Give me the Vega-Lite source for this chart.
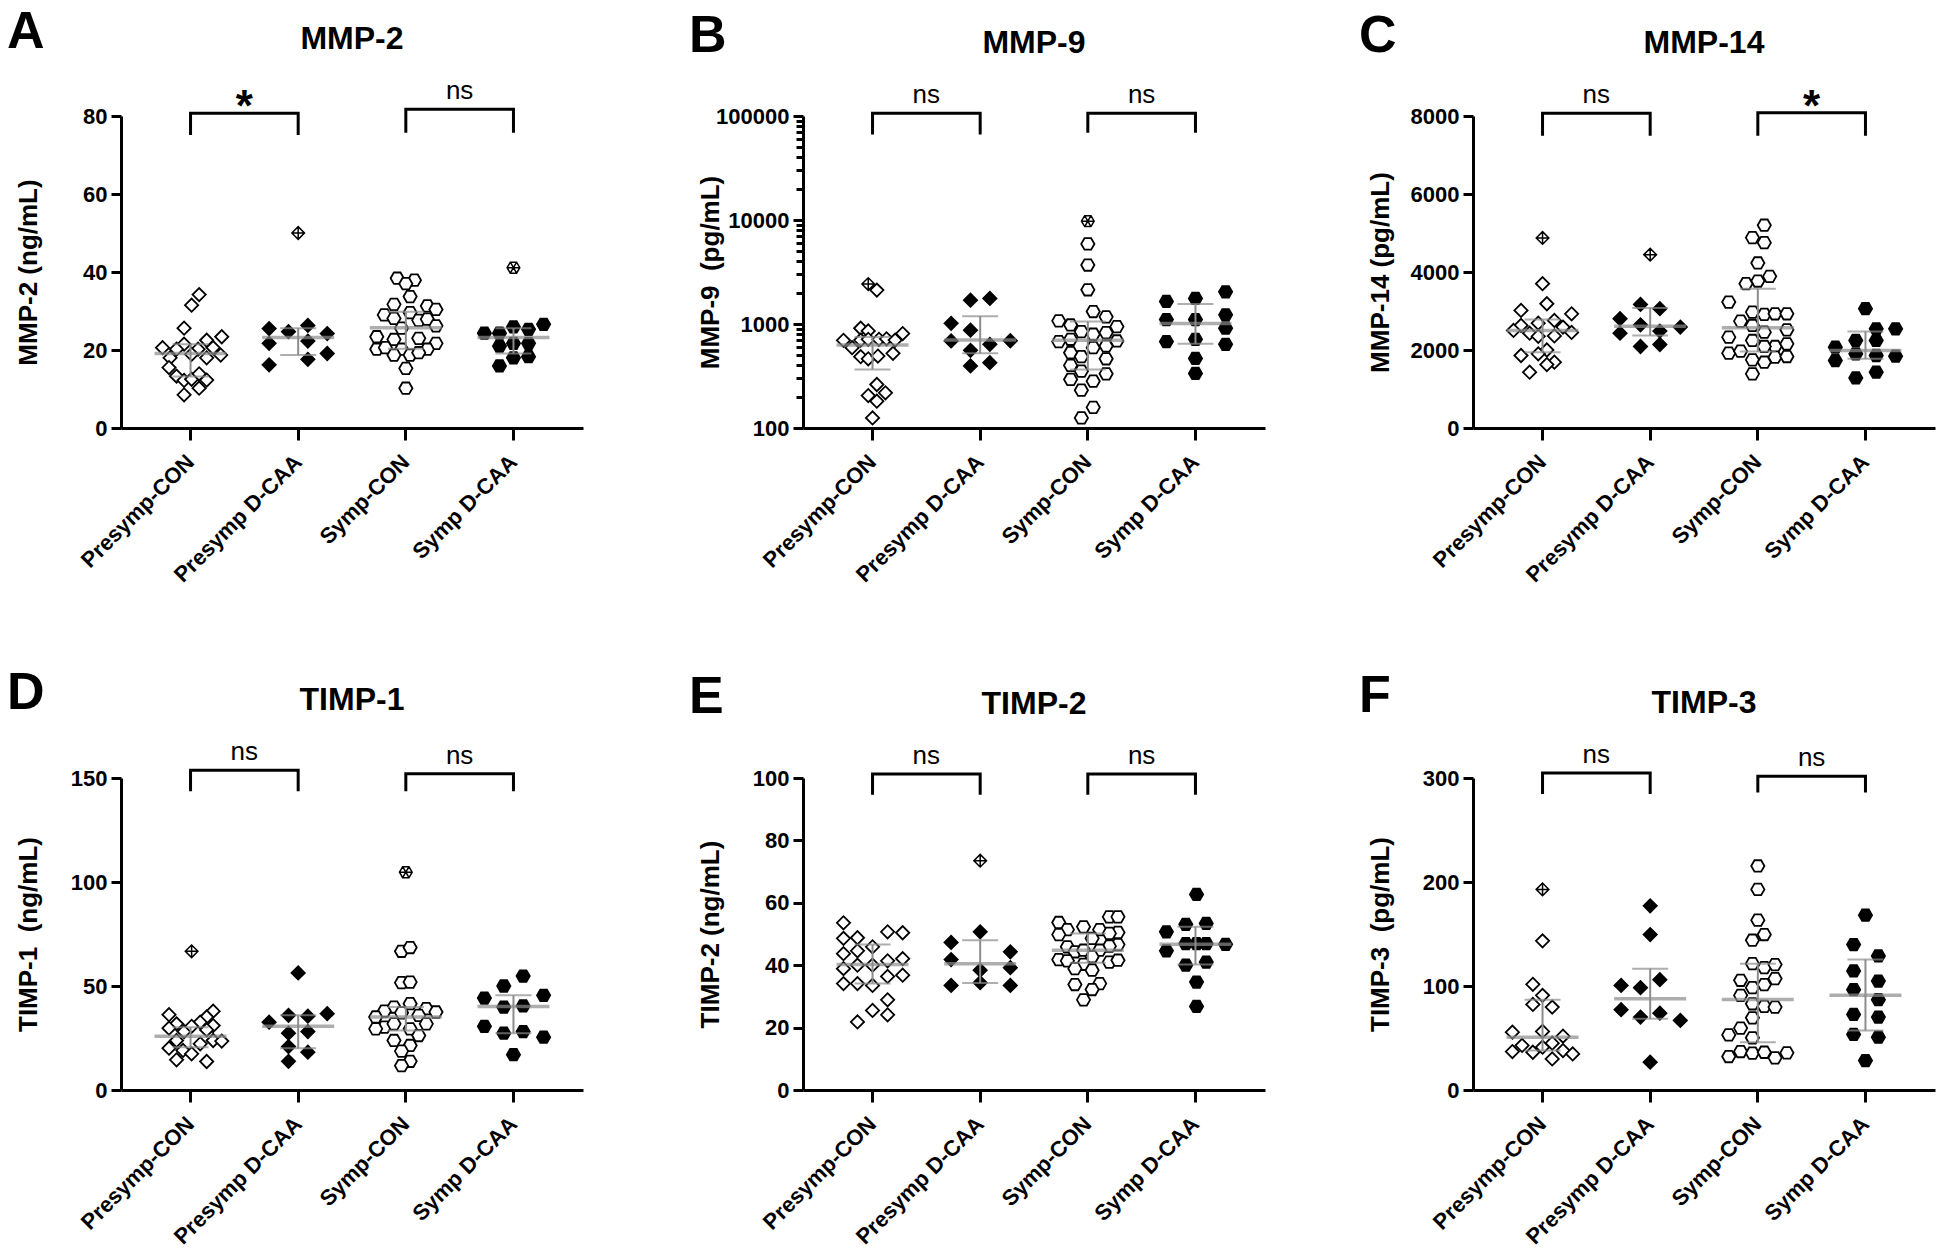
{
"$schema": "https://vega.github.io/schema/vega-lite/v6.json",
"padding": {"left": 7, "top": 6, "right": 5, "bottom": 0},
"background": "white",
"datasets": {
"pts": [
{"p":"A","g":"Presymp-CON","v":34.2,"j":0.08,"o":0},{"p":"A","g":"Presymp-CON","v":31.5,"j":0.01,"o":0},{"p":"A","g":"Presymp-CON","v":25.6,"j":-0.06,"o":0},{"p":"A","g":"Presymp-CON","v":23.4,"j":0.29,"o":0},{"p":"A","g":"Presymp-CON","v":22.5,"j":0.15,"o":0},{"p":"A","g":"Presymp-CON","v":21.5,"j":-0.06,"o":0},{"p":"A","g":"Presymp-CON","v":20.6,"j":-0.26,"o":0},{"p":"A","g":"Presymp-CON","v":20.2,"j":-0.13,"o":0},{"p":"A","g":"Presymp-CON","v":20.2,"j":0.07,"o":0},{"p":"A","g":"Presymp-CON","v":20.6,"j":0.21,"o":0},{"p":"A","g":"Presymp-CON","v":18.7,"j":0.28,"o":0},{"p":"A","g":"Presymp-CON","v":18.0,"j":-0.19,"o":0},{"p":"A","g":"Presymp-CON","v":18.0,"j":0.15,"o":0},{"p":"A","g":"Presymp-CON","v":18.9,"j":0.01,"o":0},{"p":"A","g":"Presymp-CON","v":15.5,"j":-0.2,"o":0},{"p":"A","g":"Presymp-CON","v":13.3,"j":-0.13,"o":0},{"p":"A","g":"Presymp-CON","v":12.2,"j":-0.06,"o":0},{"p":"A","g":"Presymp-CON","v":12.5,"j":0.01,"o":0},{"p":"A","g":"Presymp-CON","v":13.9,"j":0.08,"o":0},{"p":"A","g":"Presymp-CON","v":12.3,"j":0.15,"o":0},{"p":"A","g":"Presymp-CON","v":10.2,"j":0.08,"o":0},{"p":"A","g":"Presymp-CON","v":8.5,"j":-0.06,"o":0},
{"p":"A","g":"Presymp D-CAA","v":50.0,"j":0,"o":1},{"p":"A","g":"Presymp D-CAA","v":25.5,"j":-0.27,"o":0},{"p":"A","g":"Presymp D-CAA","v":24.7,"j":-0.09,"o":0},{"p":"A","g":"Presymp D-CAA","v":26.3,"j":0.09,"o":0},{"p":"A","g":"Presymp D-CAA","v":24.2,"j":0.27,"o":0},{"p":"A","g":"Presymp D-CAA","v":21.7,"j":-0.27,"o":0},{"p":"A","g":"Presymp D-CAA","v":22.3,"j":0.09,"o":0},{"p":"A","g":"Presymp D-CAA","v":19.1,"j":0.27,"o":0},{"p":"A","g":"Presymp D-CAA","v":17.6,"j":0.09,"o":0},{"p":"A","g":"Presymp D-CAA","v":16.2,"j":-0.27,"o":0},
{"p":"A","g":"Symp-CON","v":38.4,"j":-0.08,"o":0},{"p":"A","g":"Symp-CON","v":37.9,"j":0.08,"o":0},{"p":"A","g":"Symp-CON","v":37.0,"j":0,"o":0},{"p":"A","g":"Symp-CON","v":33.7,"j":0.04,"o":0},{"p":"A","g":"Symp-CON","v":31.7,"j":-0.11,"o":0},{"p":"A","g":"Symp-CON","v":31.3,"j":0.2,"o":0},{"p":"A","g":"Symp-CON","v":30.4,"j":0.28,"o":0},{"p":"A","g":"Symp-CON","v":29.0,"j":-0.2,"o":0},{"p":"A","g":"Symp-CON","v":29.6,"j":0.04,"o":0},{"p":"A","g":"Symp-CON","v":28.1,"j":-0.11,"o":0},{"p":"A","g":"Symp-CON","v":27.6,"j":0.12,"o":0},{"p":"A","g":"Symp-CON","v":27.9,"j":0.2,"o":0},{"p":"A","g":"Symp-CON","v":26.2,"j":0.28,"o":0},{"p":"A","g":"Symp-CON","v":25.6,"j":-0.04,"o":0},{"p":"A","g":"Symp-CON","v":23.4,"j":-0.27,"o":0},{"p":"A","g":"Symp-CON","v":22.7,"j":-0.11,"o":0},{"p":"A","g":"Symp-CON","v":23.0,"j":0.12,"o":0},{"p":"A","g":"Symp-CON","v":21.7,"j":0.28,"o":0},{"p":"A","g":"Symp-CON","v":20.2,"j":-0.27,"o":0},{"p":"A","g":"Symp-CON","v":20.6,"j":-0.19,"o":0},{"p":"A","g":"Symp-CON","v":20.2,"j":-0.04,"o":0},{"p":"A","g":"Symp-CON","v":20.2,"j":0.2,"o":0},{"p":"A","g":"Symp-CON","v":18.7,"j":-0.11,"o":0},{"p":"A","g":"Symp-CON","v":18.7,"j":0.04,"o":0},{"p":"A","g":"Symp-CON","v":19.3,"j":0.12,"o":0},{"p":"A","g":"Symp-CON","v":15.3,"j":0,"o":0},{"p":"A","g":"Symp-CON","v":10.2,"j":0,"o":0},
{"p":"A","g":"Symp D-CAA","v":41.1,"j":0,"o":1},{"p":"A","g":"Symp D-CAA","v":26.6,"j":0.28,"o":0},{"p":"A","g":"Symp D-CAA","v":24.3,"j":-0.27,"o":0},{"p":"A","g":"Symp D-CAA","v":24.3,"j":-0.13,"o":0},{"p":"A","g":"Symp D-CAA","v":25.9,"j":0,"o":0},{"p":"A","g":"Symp D-CAA","v":25.3,"j":0.14,"o":0},{"p":"A","g":"Symp D-CAA","v":21.0,"j":-0.13,"o":0},{"p":"A","g":"Symp D-CAA","v":21.7,"j":0,"o":0},{"p":"A","g":"Symp D-CAA","v":21.7,"j":0.14,"o":0},{"p":"A","g":"Symp D-CAA","v":18.0,"j":0,"o":0},{"p":"A","g":"Symp D-CAA","v":18.3,"j":0.14,"o":0},{"p":"A","g":"Symp D-CAA","v":15.9,"j":-0.13,"o":0},
{"p":"B","g":"Presymp-CON","v":2421,"j":-0.04,"o":1},{"p":"B","g":"Presymp-CON","v":2118,"j":0.04,"o":0},{"p":"B","g":"Presymp-CON","v":910,"j":-0.11,"o":0},{"p":"B","g":"Presymp-CON","v":857,"j":-0.04,"o":0},{"p":"B","g":"Presymp-CON","v":809,"j":0.28,"o":0},{"p":"B","g":"Presymp-CON","v":697,"j":-0.27,"o":0},{"p":"B","g":"Presymp-CON","v":700,"j":-0.11,"o":0},{"p":"B","g":"Presymp-CON","v":713,"j":-0.04,"o":0},{"p":"B","g":"Presymp-CON","v":713,"j":0.06,"o":0},{"p":"B","g":"Presymp-CON","v":720,"j":0.13,"o":0},{"p":"B","g":"Presymp-CON","v":700,"j":0.21,"o":0},{"p":"B","g":"Presymp-CON","v":592,"j":-0.19,"o":0},{"p":"B","g":"Presymp-CON","v":485,"j":-0.11,"o":0},{"p":"B","g":"Presymp-CON","v":463,"j":-0.04,"o":0},{"p":"B","g":"Presymp-CON","v":492,"j":0.05,"o":0},{"p":"B","g":"Presymp-CON","v":522,"j":0.19,"o":0},{"p":"B","g":"Presymp-CON","v":262,"j":0.04,"o":0},{"p":"B","g":"Presymp-CON","v":205,"j":-0.04,"o":0},{"p":"B","g":"Presymp-CON","v":218,"j":0.12,"o":0},{"p":"B","g":"Presymp-CON","v":181,"j":0.04,"o":0},{"p":"B","g":"Presymp-CON","v":125,"j":0,"o":0},
{"p":"B","g":"Presymp D-CAA","v":1694,"j":-0.09,"o":0},{"p":"B","g":"Presymp D-CAA","v":1762,"j":0.09,"o":0},{"p":"B","g":"Presymp D-CAA","v":1016,"j":-0.27,"o":0},{"p":"B","g":"Presymp D-CAA","v":871,"j":-0.09,"o":0},{"p":"B","g":"Presymp D-CAA","v":687,"j":-0.27,"o":0},{"p":"B","g":"Presymp D-CAA","v":638,"j":0.09,"o":0},{"p":"B","g":"Presymp D-CAA","v":690,"j":0.28,"o":0},{"p":"B","g":"Presymp D-CAA","v":558,"j":-0.09,"o":0},{"p":"B","g":"Presymp D-CAA","v":395,"j":-0.09,"o":0},{"p":"B","g":"Presymp D-CAA","v":425,"j":0.09,"o":0},
{"p":"B","g":"Symp-CON","v":9750,"j":0,"o":1},{"p":"B","g":"Symp-CON","v":5890,"j":0,"o":0},{"p":"B","g":"Symp-CON","v":3690,"j":0,"o":0},{"p":"B","g":"Symp-CON","v":2134,"j":0,"o":0},{"p":"B","g":"Symp-CON","v":1318,"j":0.05,"o":0},{"p":"B","g":"Symp-CON","v":1172,"j":0.17,"o":0},{"p":"B","g":"Symp-CON","v":1072,"j":-0.27,"o":0},{"p":"B","g":"Symp-CON","v":979,"j":-0.16,"o":0},{"p":"B","g":"Symp-CON","v":944,"j":0.27,"o":0},{"p":"B","g":"Symp-CON","v":845,"j":-0.06,"o":0},{"p":"B","g":"Symp-CON","v":797,"j":0.05,"o":0},{"p":"B","g":"Symp-CON","v":826,"j":0.17,"o":0},{"p":"B","g":"Symp-CON","v":677,"j":-0.27,"o":0},{"p":"B","g":"Symp-CON","v":713,"j":-0.16,"o":0},{"p":"B","g":"Symp-CON","v":687,"j":0.27,"o":0},{"p":"B","g":"Symp-CON","v":592,"j":0.05,"o":0},{"p":"B","g":"Symp-CON","v":615,"j":0.17,"o":0},{"p":"B","g":"Symp-CON","v":530,"j":-0.16,"o":0},{"p":"B","g":"Symp-CON","v":485,"j":-0.06,"o":0},{"p":"B","g":"Symp-CON","v":463,"j":0.17,"o":0},{"p":"B","g":"Symp-CON","v":400,"j":-0.16,"o":0},{"p":"B","g":"Symp-CON","v":352,"j":-0.06,"o":0},{"p":"B","g":"Symp-CON","v":332,"j":0.17,"o":0},{"p":"B","g":"Symp-CON","v":293,"j":-0.16,"o":0},{"p":"B","g":"Symp-CON","v":282,"j":0.05,"o":0},{"p":"B","g":"Symp-CON","v":231,"j":-0.06,"o":0},{"p":"B","g":"Symp-CON","v":158,"j":0.05,"o":0},{"p":"B","g":"Symp-CON","v":125,"j":-0.06,"o":0},
{"p":"B","g":"Symp D-CAA","v":1648,"j":-0.27,"o":0},{"p":"B","g":"Symp D-CAA","v":1762,"j":0,"o":0},{"p":"B","g":"Symp D-CAA","v":2042,"j":0.28,"o":0},{"p":"B","g":"Symp D-CAA","v":1104,"j":-0.27,"o":0},{"p":"B","g":"Symp D-CAA","v":1104,"j":0,"o":0},{"p":"B","g":"Symp D-CAA","v":1224,"j":0.28,"o":0},{"p":"B","g":"Symp D-CAA","v":912,"j":0.28,"o":0},{"p":"B","g":"Symp D-CAA","v":677,"j":-0.27,"o":0},{"p":"B","g":"Symp D-CAA","v":713,"j":0,"o":0},{"p":"B","g":"Symp D-CAA","v":638,"j":0.28,"o":0},{"p":"B","g":"Symp D-CAA","v":467,"j":0,"o":0},{"p":"B","g":"Symp D-CAA","v":335,"j":0,"o":0},
{"p":"C","g":"Presymp-CON","v":4873,"j":0,"o":1},{"p":"C","g":"Presymp-CON","v":3700,"j":0,"o":0},{"p":"C","g":"Presymp-CON","v":3186,"j":0.04,"o":0},{"p":"C","g":"Presymp-CON","v":3015,"j":-0.2,"o":0},{"p":"C","g":"Presymp-CON","v":2929,"j":0.27,"o":0},{"p":"C","g":"Presymp-CON","v":2758,"j":0.11,"o":0},{"p":"C","g":"Presymp-CON","v":2689,"j":-0.04,"o":0},{"p":"C","g":"Presymp-CON","v":2629,"j":-0.2,"o":0},{"p":"C","g":"Presymp-CON","v":2587,"j":0.19,"o":0},{"p":"C","g":"Presymp-CON","v":2501,"j":-0.27,"o":0},{"p":"C","g":"Presymp-CON","v":2432,"j":-0.12,"o":0},{"p":"C","g":"Presymp-CON","v":2450,"j":0.27,"o":0},{"p":"C","g":"Presymp-CON","v":2350,"j":-0.04,"o":0},{"p":"C","g":"Presymp-CON","v":2360,"j":0.11,"o":0},{"p":"C","g":"Presymp-CON","v":2000,"j":0.04,"o":0},{"p":"C","g":"Presymp-CON","v":1901,"j":-0.04,"o":0},{"p":"C","g":"Presymp-CON","v":1859,"j":-0.2,"o":0},{"p":"C","g":"Presymp-CON","v":1687,"j":0.11,"o":0},{"p":"C","g":"Presymp-CON","v":1627,"j":0.04,"o":0},{"p":"C","g":"Presymp-CON","v":1430,"j":-0.12,"o":0},
{"p":"C","g":"Presymp D-CAA","v":4445,"j":0,"o":1},{"p":"C","g":"Presymp D-CAA","v":3169,"j":-0.09,"o":0},{"p":"C","g":"Presymp D-CAA","v":3058,"j":0.09,"o":0},{"p":"C","g":"Presymp D-CAA","v":2801,"j":-0.28,"o":0},{"p":"C","g":"Presymp D-CAA","v":2647,"j":-0.09,"o":0},{"p":"C","g":"Presymp D-CAA","v":2587,"j":0.28,"o":0},{"p":"C","g":"Presymp D-CAA","v":2432,"j":-0.28,"o":0},{"p":"C","g":"Presymp D-CAA","v":2484,"j":0.09,"o":0},{"p":"C","g":"Presymp D-CAA","v":2090,"j":-0.09,"o":0},{"p":"C","g":"Presymp D-CAA","v":2141,"j":0.09,"o":0},
{"p":"C","g":"Symp-CON","v":5199,"j":0.06,"o":0},{"p":"C","g":"Symp-CON","v":4882,"j":-0.05,"o":0},{"p":"C","g":"Symp-CON","v":4753,"j":0.06,"o":0},{"p":"C","g":"Symp-CON","v":4231,"j":0,"o":0},{"p":"C","g":"Symp-CON","v":3888,"j":0.11,"o":0},{"p":"C","g":"Symp-CON","v":3769,"j":0,"o":0},{"p":"C","g":"Symp-CON","v":3700,"j":-0.11,"o":0},{"p":"C","g":"Symp-CON","v":3229,"j":-0.27,"o":0},{"p":"C","g":"Symp-CON","v":2972,"j":-0.05,"o":0},{"p":"C","g":"Symp-CON","v":2912,"j":0.06,"o":0},{"p":"C","g":"Symp-CON","v":2929,"j":0.16,"o":0},{"p":"C","g":"Symp-CON","v":2929,"j":0.27,"o":0},{"p":"C","g":"Symp-CON","v":2741,"j":-0.16,"o":0},{"p":"C","g":"Symp-CON","v":2629,"j":-0.05,"o":0},{"p":"C","g":"Symp-CON","v":2458,"j":0.06,"o":0},{"p":"C","g":"Symp-CON","v":2518,"j":0.27,"o":0},{"p":"C","g":"Symp-CON","v":2330,"j":-0.27,"o":0},{"p":"C","g":"Symp-CON","v":2244,"j":-0.05,"o":0},{"p":"C","g":"Symp-CON","v":2090,"j":0.16,"o":0},{"p":"C","g":"Symp-CON","v":2158,"j":0.27,"o":0},{"p":"C","g":"Symp-CON","v":2090,"j":0.06,"o":0},{"p":"C","g":"Symp-CON","v":1919,"j":-0.27,"o":0},{"p":"C","g":"Symp-CON","v":1970,"j":-0.16,"o":0},{"p":"C","g":"Symp-CON","v":1816,"j":0.16,"o":0},{"p":"C","g":"Symp-CON","v":1833,"j":0.27,"o":0},{"p":"C","g":"Symp-CON","v":1747,"j":-0.05,"o":0},{"p":"C","g":"Symp-CON","v":1687,"j":0.06,"o":0},{"p":"C","g":"Symp-CON","v":1388,"j":-0.05,"o":0},
{"p":"C","g":"Symp D-CAA","v":3058,"j":0,"o":0},{"p":"C","g":"Symp D-CAA","v":2544,"j":0.1,"o":0},{"p":"C","g":"Symp D-CAA","v":2544,"j":0.28,"o":0},{"p":"C","g":"Symp D-CAA","v":2244,"j":-0.09,"o":0},{"p":"C","g":"Symp D-CAA","v":2244,"j":0.1,"o":0},{"p":"C","g":"Symp D-CAA","v":2073,"j":-0.28,"o":0},{"p":"C","g":"Symp D-CAA","v":1901,"j":-0.09,"o":0},{"p":"C","g":"Symp D-CAA","v":1859,"j":0.1,"o":0},{"p":"C","g":"Symp D-CAA","v":1841,"j":0.28,"o":0},{"p":"C","g":"Symp D-CAA","v":1730,"j":-0.28,"o":0},{"p":"C","g":"Symp D-CAA","v":1430,"j":0.1,"o":0},{"p":"C","g":"Symp D-CAA","v":1285,"j":-0.09,"o":0},
{"p":"D","g":"Presymp-CON","v":66.7,"j":0.01,"o":1},{"p":"D","g":"Presymp-CON","v":36.2,"j":-0.2,"o":0},{"p":"D","g":"Presymp-CON","v":37.9,"j":0.21,"o":0},{"p":"D","g":"Presymp-CON","v":35.1,"j":0.15,"o":0},{"p":"D","g":"Presymp-CON","v":31.8,"j":-0.13,"o":0},{"p":"D","g":"Presymp-CON","v":31.0,"j":0.21,"o":0},{"p":"D","g":"Presymp-CON","v":29.7,"j":-0.2,"o":0},{"p":"D","g":"Presymp-CON","v":28.1,"j":-0.06,"o":0},{"p":"D","g":"Presymp-CON","v":32.6,"j":0.09,"o":0},{"p":"D","g":"Presymp-CON","v":30.6,"j":0.01,"o":0},{"p":"D","g":"Presymp-CON","v":28.9,"j":0.15,"o":0},{"p":"D","g":"Presymp-CON","v":23.8,"j":-0.13,"o":0},{"p":"D","g":"Presymp-CON","v":19.0,"j":-0.07,"o":0},{"p":"D","g":"Presymp-CON","v":20.1,"j":-0.2,"o":0},{"p":"D","g":"Presymp-CON","v":22.2,"j":0.09,"o":0},{"p":"D","g":"Presymp-CON","v":23.8,"j":0.21,"o":0},{"p":"D","g":"Presymp-CON","v":23.5,"j":0.29,"o":0},{"p":"D","g":"Presymp-CON","v":17.4,"j":0.01,"o":0},{"p":"D","g":"Presymp-CON","v":14.5,"j":-0.13,"o":0},{"p":"D","g":"Presymp-CON","v":13.7,"j":0.15,"o":0},
{"p":"D","g":"Presymp D-CAA","v":56.3,"j":0,"o":0},{"p":"D","g":"Presymp D-CAA","v":36.7,"j":0.27,"o":0},{"p":"D","g":"Presymp D-CAA","v":32.6,"j":-0.27,"o":0},{"p":"D","g":"Presymp D-CAA","v":35.9,"j":-0.09,"o":0},{"p":"D","g":"Presymp D-CAA","v":35.5,"j":0.09,"o":0},{"p":"D","g":"Presymp D-CAA","v":27.3,"j":-0.09,"o":0},{"p":"D","g":"Presymp D-CAA","v":28.1,"j":0.09,"o":0},{"p":"D","g":"Presymp D-CAA","v":20.9,"j":-0.09,"o":0},{"p":"D","g":"Presymp D-CAA","v":18.2,"j":0.09,"o":0},{"p":"D","g":"Presymp D-CAA","v":13.8,"j":-0.09,"o":0},
{"p":"D","g":"Symp-CON","v":104.7,"j":0,"o":1},{"p":"D","g":"Symp-CON","v":66.7,"j":-0.04,"o":0},{"p":"D","g":"Symp-CON","v":68.5,"j":0.04,"o":0},{"p":"D","g":"Symp-CON","v":51.6,"j":-0.04,"o":0},{"p":"D","g":"Symp-CON","v":51.9,"j":0.04,"o":0},{"p":"D","g":"Symp-CON","v":41.5,"j":0.04,"o":0},{"p":"D","g":"Symp-CON","v":39.9,"j":-0.11,"o":0},{"p":"D","g":"Symp-CON","v":39.1,"j":0.19,"o":0},{"p":"D","g":"Symp-CON","v":37.9,"j":-0.2,"o":0},{"p":"D","g":"Symp-CON","v":37.5,"j":0.28,"o":0},{"p":"D","g":"Symp-CON","v":37.1,"j":-0.04,"o":0},{"p":"D","g":"Symp-CON","v":35.9,"j":0.12,"o":0},{"p":"D","g":"Symp-CON","v":35.1,"j":-0.28,"o":0},{"p":"D","g":"Symp-CON","v":30.2,"j":-0.2,"o":0},{"p":"D","g":"Symp-CON","v":29.4,"j":-0.28,"o":0},{"p":"D","g":"Symp-CON","v":31.8,"j":-0.11,"o":0},{"p":"D","g":"Symp-CON","v":29.4,"j":0.04,"o":0},{"p":"D","g":"Symp-CON","v":26.2,"j":0.12,"o":0},{"p":"D","g":"Symp-CON","v":31.8,"j":0.19,"o":0},{"p":"D","g":"Symp-CON","v":23.8,"j":-0.11,"o":0},{"p":"D","g":"Symp-CON","v":21.4,"j":0.04,"o":0},{"p":"D","g":"Symp-CON","v":18.7,"j":-0.04,"o":0},{"p":"D","g":"Symp-CON","v":13.8,"j":0.04,"o":0},{"p":"D","g":"Symp-CON","v":11.7,"j":-0.04,"o":0},
{"p":"D","g":"Symp D-CAA","v":54.8,"j":0.09,"o":0},{"p":"D","g":"Symp D-CAA","v":50.0,"j":-0.09,"o":0},{"p":"D","g":"Symp D-CAA","v":45.5,"j":0.28,"o":0},{"p":"D","g":"Symp D-CAA","v":44.2,"j":-0.27,"o":0},{"p":"D","g":"Symp D-CAA","v":39.9,"j":-0.09,"o":0},{"p":"D","g":"Symp D-CAA","v":40.4,"j":0.09,"o":0},{"p":"D","g":"Symp D-CAA","v":30.6,"j":-0.27,"o":0},{"p":"D","g":"Symp D-CAA","v":27.3,"j":-0.09,"o":0},{"p":"D","g":"Symp D-CAA","v":28.1,"j":0.09,"o":0},{"p":"D","g":"Symp D-CAA","v":25.4,"j":0.28,"o":0},{"p":"D","g":"Symp D-CAA","v":17.0,"j":0,"o":0},
{"p":"E","g":"Presymp-CON","v":53.6,"j":-0.27,"o":0},{"p":"E","g":"Presymp-CON","v":48.6,"j":-0.27,"o":0},{"p":"E","g":"Presymp-CON","v":48.8,"j":-0.14,"o":0},{"p":"E","g":"Presymp-CON","v":50.7,"j":0.14,"o":0},{"p":"E","g":"Presymp-CON","v":50.4,"j":0.28,"o":0},{"p":"E","g":"Presymp-CON","v":45.9,"j":0,"o":0},{"p":"E","g":"Presymp-CON","v":43.7,"j":-0.27,"o":0},{"p":"E","g":"Presymp-CON","v":44.6,"j":-0.14,"o":0},{"p":"E","g":"Presymp-CON","v":41.4,"j":0.14,"o":0},{"p":"E","g":"Presymp-CON","v":42.1,"j":0.28,"o":0},{"p":"E","g":"Presymp-CON","v":40.0,"j":-0.14,"o":0},{"p":"E","g":"Presymp-CON","v":40.0,"j":0,"o":0},{"p":"E","g":"Presymp-CON","v":38.9,"j":-0.27,"o":0},{"p":"E","g":"Presymp-CON","v":36.4,"j":0.14,"o":0},{"p":"E","g":"Presymp-CON","v":36.8,"j":0.28,"o":0},{"p":"E","g":"Presymp-CON","v":34.1,"j":-0.27,"o":0},{"p":"E","g":"Presymp-CON","v":34.1,"j":-0.14,"o":0},{"p":"E","g":"Presymp-CON","v":33.5,"j":0,"o":0},{"p":"E","g":"Presymp-CON","v":28.9,"j":0.14,"o":0},{"p":"E","g":"Presymp-CON","v":25.5,"j":0,"o":0},{"p":"E","g":"Presymp-CON","v":24.1,"j":0.14,"o":0},{"p":"E","g":"Presymp-CON","v":21.8,"j":-0.14,"o":0},
{"p":"E","g":"Presymp D-CAA","v":73.5,"j":0,"o":1},{"p":"E","g":"Presymp D-CAA","v":50.7,"j":0,"o":0},{"p":"E","g":"Presymp D-CAA","v":47.3,"j":-0.27,"o":0},{"p":"E","g":"Presymp D-CAA","v":44.3,"j":0.28,"o":0},{"p":"E","g":"Presymp D-CAA","v":41.8,"j":-0.27,"o":0},{"p":"E","g":"Presymp D-CAA","v":38.4,"j":0,"o":0},{"p":"E","g":"Presymp D-CAA","v":39.2,"j":0.28,"o":0},{"p":"E","g":"Presymp D-CAA","v":33.5,"j":-0.27,"o":0},{"p":"E","g":"Presymp D-CAA","v":34.4,"j":0,"o":0},{"p":"E","g":"Presymp D-CAA","v":33.5,"j":0.28,"o":0},
{"p":"E","g":"Symp-CON","v":55.5,"j":0.2,"o":0},{"p":"E","g":"Symp-CON","v":55.5,"j":0.28,"o":0},{"p":"E","g":"Symp-CON","v":53.7,"j":-0.27,"o":0},{"p":"E","g":"Symp-CON","v":52.3,"j":-0.04,"o":0},{"p":"E","g":"Symp-CON","v":51.4,"j":-0.19,"o":0},{"p":"E","g":"Symp-CON","v":51.4,"j":0.11,"o":0},{"p":"E","g":"Symp-CON","v":50.5,"j":0.28,"o":0},{"p":"E","g":"Symp-CON","v":49.8,"j":-0.27,"o":0},{"p":"E","g":"Symp-CON","v":50.2,"j":0.2,"o":0},{"p":"E","g":"Symp-CON","v":48.6,"j":0.04,"o":0},{"p":"E","g":"Symp-CON","v":45.9,"j":-0.19,"o":0},{"p":"E","g":"Symp-CON","v":46.6,"j":0.28,"o":0},{"p":"E","g":"Symp-CON","v":46.1,"j":0.2,"o":0},{"p":"E","g":"Symp-CON","v":44.3,"j":-0.12,"o":0},{"p":"E","g":"Symp-CON","v":44.8,"j":-0.04,"o":0},{"p":"E","g":"Symp-CON","v":44.8,"j":0.11,"o":0},{"p":"E","g":"Symp-CON","v":41.8,"j":-0.27,"o":0},{"p":"E","g":"Symp-CON","v":41.4,"j":-0.19,"o":0},{"p":"E","g":"Symp-CON","v":42.7,"j":0.04,"o":0},{"p":"E","g":"Symp-CON","v":41.0,"j":0.2,"o":0},{"p":"E","g":"Symp-CON","v":41.6,"j":0.28,"o":0},{"p":"E","g":"Symp-CON","v":40.3,"j":-0.04,"o":0},{"p":"E","g":"Symp-CON","v":38.9,"j":-0.12,"o":0},{"p":"E","g":"Symp-CON","v":38.4,"j":0.04,"o":0},{"p":"E","g":"Symp-CON","v":33.8,"j":-0.12,"o":0},{"p":"E","g":"Symp-CON","v":34.1,"j":0.11,"o":0},{"p":"E","g":"Symp-CON","v":32.2,"j":0.04,"o":0},{"p":"E","g":"Symp-CON","v":28.9,"j":-0.04,"o":0},
{"p":"E","g":"Symp D-CAA","v":62.7,"j":0.01,"o":0},{"p":"E","g":"Symp D-CAA","v":53.1,"j":-0.09,"o":0},{"p":"E","g":"Symp D-CAA","v":53.4,"j":0.1,"o":0},{"p":"E","g":"Symp D-CAA","v":50.7,"j":-0.27,"o":0},{"p":"E","g":"Symp D-CAA","v":46.9,"j":-0.09,"o":0},{"p":"E","g":"Symp D-CAA","v":46.9,"j":0.01,"o":0},{"p":"E","g":"Symp D-CAA","v":46.9,"j":0.1,"o":0},{"p":"E","g":"Symp D-CAA","v":46.7,"j":0.28,"o":0},{"p":"E","g":"Symp D-CAA","v":44.6,"j":-0.27,"o":0},{"p":"E","g":"Symp D-CAA","v":40.0,"j":-0.09,"o":0},{"p":"E","g":"Symp D-CAA","v":41.0,"j":0.1,"o":0},{"p":"E","g":"Symp D-CAA","v":34.6,"j":0.01,"o":0},{"p":"E","g":"Symp D-CAA","v":26.8,"j":0.01,"o":0},
{"p":"F","g":"Presymp-CON","v":192.9,"j":0,"o":1},{"p":"F","g":"Presymp-CON","v":143.4,"j":0,"o":0},{"p":"F","g":"Presymp-CON","v":101.6,"j":-0.09,"o":0},{"p":"F","g":"Presymp-CON","v":91.0,"j":0,"o":0},{"p":"F","g":"Presymp-CON","v":82.3,"j":-0.09,"o":0},{"p":"F","g":"Presymp-CON","v":79.7,"j":0.09,"o":0},{"p":"F","g":"Presymp-CON","v":55.6,"j":-0.28,"o":0},{"p":"F","g":"Presymp-CON","v":56.3,"j":0,"o":0},{"p":"F","g":"Presymp-CON","v":51.8,"j":0.19,"o":0},{"p":"F","g":"Presymp-CON","v":42.8,"j":-0.19,"o":0},{"p":"F","g":"Presymp-CON","v":45.0,"j":0.09,"o":0},{"p":"F","g":"Presymp-CON","v":36.3,"j":-0.09,"o":0},{"p":"F","g":"Presymp-CON","v":37.0,"j":-0.28,"o":0},{"p":"F","g":"Presymp-CON","v":41.2,"j":0,"o":0},{"p":"F","g":"Presymp-CON","v":37.9,"j":0.19,"o":0},{"p":"F","g":"Presymp-CON","v":34.7,"j":0.28,"o":0},{"p":"F","g":"Presymp-CON","v":29.9,"j":0.09,"o":0},
{"p":"F","g":"Presymp D-CAA","v":177.1,"j":0,"o":0},{"p":"F","g":"Presymp D-CAA","v":149.5,"j":0,"o":0},{"p":"F","g":"Presymp D-CAA","v":106.1,"j":0.09,"o":0},{"p":"F","g":"Presymp D-CAA","v":100.6,"j":-0.27,"o":0},{"p":"F","g":"Presymp D-CAA","v":98.4,"j":-0.09,"o":0},{"p":"F","g":"Presymp D-CAA","v":77.2,"j":-0.27,"o":0},{"p":"F","g":"Presymp D-CAA","v":70.1,"j":-0.09,"o":0},{"p":"F","g":"Presymp D-CAA","v":73.9,"j":0.09,"o":0},{"p":"F","g":"Presymp D-CAA","v":66.9,"j":0.28,"o":0},{"p":"F","g":"Presymp D-CAA","v":26.7,"j":0,"o":0},
{"p":"F","g":"Symp-CON","v":215.4,"j":0,"o":0},{"p":"F","g":"Symp-CON","v":192.9,"j":0,"o":0},{"p":"F","g":"Symp-CON","v":163.3,"j":0,"o":0},{"p":"F","g":"Symp-CON","v":149.5,"j":0.06,"o":0},{"p":"F","g":"Symp-CON","v":144.0,"j":-0.05,"o":0},{"p":"F","g":"Symp-CON","v":121.5,"j":-0.05,"o":0},{"p":"F","g":"Symp-CON","v":117.7,"j":0.06,"o":0},{"p":"F","g":"Symp-CON","v":120.6,"j":0.16,"o":0},{"p":"F","g":"Symp-CON","v":105.5,"j":-0.16,"o":0},{"p":"F","g":"Symp-CON","v":107.1,"j":0.16,"o":0},{"p":"F","g":"Symp-CON","v":101.3,"j":0.06,"o":0},{"p":"F","g":"Symp-CON","v":98.4,"j":-0.05,"o":0},{"p":"F","g":"Symp-CON","v":91.0,"j":-0.16,"o":0},{"p":"F","g":"Symp-CON","v":82.9,"j":-0.05,"o":0},{"p":"F","g":"Symp-CON","v":80.4,"j":0.06,"o":0},{"p":"F","g":"Symp-CON","v":79.7,"j":0.16,"o":0},{"p":"F","g":"Symp-CON","v":69.4,"j":-0.05,"o":0},{"p":"F","g":"Symp-CON","v":59.5,"j":-0.16,"o":0},{"p":"F","g":"Symp-CON","v":53.0,"j":-0.27,"o":0},{"p":"F","g":"Symp-CON","v":50.2,"j":-0.05,"o":0},{"p":"F","g":"Symp-CON","v":32.2,"j":-0.27,"o":0},{"p":"F","g":"Symp-CON","v":37.0,"j":-0.16,"o":0},{"p":"F","g":"Symp-CON","v":35.4,"j":-0.05,"o":0},{"p":"F","g":"Symp-CON","v":36.3,"j":0.06,"o":0},{"p":"F","g":"Symp-CON","v":30.9,"j":0.16,"o":0},{"p":"F","g":"Symp-CON","v":35.7,"j":0.27,"o":0},
{"p":"F","g":"Symp D-CAA","v":168.1,"j":0,"o":0},{"p":"F","g":"Symp D-CAA","v":139.9,"j":-0.11,"o":0},{"p":"F","g":"Symp D-CAA","v":128.9,"j":0.12,"o":0},{"p":"F","g":"Symp D-CAA","v":114.5,"j":-0.11,"o":0},{"p":"F","g":"Symp D-CAA","v":104.8,"j":0.12,"o":0},{"p":"F","g":"Symp D-CAA","v":96.5,"j":-0.11,"o":0},{"p":"F","g":"Symp D-CAA","v":86.8,"j":0.12,"o":0},{"p":"F","g":"Symp D-CAA","v":72.7,"j":-0.11,"o":0},{"p":"F","g":"Symp D-CAA","v":70.1,"j":0.12,"o":0},{"p":"F","g":"Symp D-CAA","v":53.4,"j":-0.11,"o":0},{"p":"F","g":"Symp D-CAA","v":50.8,"j":0.12,"o":0},{"p":"F","g":"Symp D-CAA","v":28.3,"j":0,"o":0}
],
"stats": [
{"p":"A","g":"Presymp-CON","v":19.1,"lo":13.2,"hi":21.5},{"p":"A","g":"Presymp D-CAA","v":23.2,"lo":18.7,"hi":25.6},{"p":"A","g":"Symp-CON","v":25.7,"lo":20.3,"hi":29.8},{"p":"A","g":"Symp D-CAA","v":23.2,"lo":19.1,"hi":25.6},
{"p":"B","g":"Presymp-CON","v":628,"lo":366,"hi":750},{"p":"B","g":"Presymp D-CAA","v":700,"lo":522,"hi":1189},{"p":"B","g":"Symp-CON","v":697,"lo":366,"hi":1055},{"p":"B","g":"Symp D-CAA","v":1009,"lo":647,"hi":1553},
{"p":"C","g":"Presymp-CON","v":2501,"lo":1944,"hi":2784},{"p":"C","g":"Presymp D-CAA","v":2612,"lo":2372,"hi":3075},{"p":"C","g":"Symp-CON","v":2570,"lo":1961,"hi":3572},{"p":"C","g":"Symp D-CAA","v":1987,"lo":1773,"hi":2475},
{"p":"D","g":"Presymp-CON","v":25.9,"lo":20.6,"hi":30.2},{"p":"D","g":"Presymp D-CAA","v":30.6,"lo":20.1,"hi":35.9},{"p":"D","g":"Symp-CON","v":35.1,"lo":28.6,"hi":39.9},{"p":"D","g":"Symp D-CAA","v":40.2,"lo":27.3,"hi":45.5},
{"p":"E","g":"Presymp-CON","v":40.2,"lo":34.1,"hi":46.6},{"p":"E","g":"Presymp D-CAA","v":40.5,"lo":34.3,"hi":48.0},{"p":"E","g":"Symp-CON","v":44.8,"lo":40.8,"hi":50.2},{"p":"E","g":"Symp D-CAA","v":46.7,"lo":40.2,"hi":52.3},
{"p":"F","g":"Presymp-CON","v":50.8,"lo":37.9,"hi":86.8},{"p":"F","g":"Presymp D-CAA","v":87.8,"lo":68.5,"hi":116.7},{"p":"F","g":"Symp-CON","v":87.1,"lo":46.0,"hi":121.5},{"p":"F","g":"Symp D-CAA","v":91.0,"lo":57.2,"hi":125.4}
],
"brk": [
{"p":"A","b":1,"k":1,"g":"Presymp-CON","v":75.1},{"p":"A","b":1,"k":2,"g":"Presymp-CON","v":80.7},{"p":"A","b":1,"k":3,"g":"Presymp D-CAA","v":80.7},{"p":"A","b":1,"k":4,"g":"Presymp D-CAA","v":75.1},
{"p":"A","b":2,"k":1,"g":"Symp-CON","v":75.7},{"p":"A","b":2,"k":2,"g":"Symp-CON","v":81.7},{"p":"A","b":2,"k":3,"g":"Symp D-CAA","v":81.7},{"p":"A","b":2,"k":4,"g":"Symp D-CAA","v":75.7},
{"p":"B","b":1,"k":1,"g":"Presymp-CON","v":66500},{"p":"B","b":1,"k":2,"g":"Presymp-CON","v":106000},{"p":"B","b":1,"k":3,"g":"Presymp D-CAA","v":106000},{"p":"B","b":1,"k":4,"g":"Presymp D-CAA","v":66500},
{"p":"B","b":2,"k":1,"g":"Symp-CON","v":69000},{"p":"B","b":2,"k":2,"g":"Symp-CON","v":106000},{"p":"B","b":2,"k":3,"g":"Symp D-CAA","v":106000},{"p":"B","b":2,"k":4,"g":"Symp D-CAA","v":69000},
{"p":"C","b":1,"k":1,"g":"Presymp-CON","v":7494},{"p":"C","b":1,"k":2,"g":"Presymp-CON","v":8068},{"p":"C","b":1,"k":3,"g":"Presymp D-CAA","v":8068},{"p":"C","b":1,"k":4,"g":"Presymp D-CAA","v":7494},
{"p":"C","b":2,"k":1,"g":"Symp-CON","v":7494},{"p":"C","b":2,"k":2,"g":"Symp-CON","v":8085},{"p":"C","b":2,"k":3,"g":"Symp D-CAA","v":8085},{"p":"C","b":2,"k":4,"g":"Symp D-CAA","v":7494},
{"p":"D","b":1,"k":1,"g":"Presymp-CON","v":143.6},{"p":"D","b":1,"k":2,"g":"Presymp-CON","v":153.7},{"p":"D","b":1,"k":3,"g":"Presymp D-CAA","v":153.7},{"p":"D","b":1,"k":4,"g":"Presymp D-CAA","v":143.6},
{"p":"D","b":2,"k":1,"g":"Symp-CON","v":143.6},{"p":"D","b":2,"k":2,"g":"Symp-CON","v":152.0},{"p":"D","b":2,"k":3,"g":"Symp D-CAA","v":152.0},{"p":"D","b":2,"k":4,"g":"Symp D-CAA","v":143.6},
{"p":"E","b":1,"k":1,"g":"Presymp-CON","v":94.6},{"p":"E","b":1,"k":2,"g":"Presymp-CON","v":101.3},{"p":"E","b":1,"k":3,"g":"Presymp D-CAA","v":101.3},{"p":"E","b":1,"k":4,"g":"Presymp D-CAA","v":94.6},
{"p":"E","b":2,"k":1,"g":"Symp-CON","v":94.6},{"p":"E","b":2,"k":2,"g":"Symp-CON","v":101.3},{"p":"E","b":2,"k":3,"g":"Symp D-CAA","v":101.3},{"p":"E","b":2,"k":4,"g":"Symp D-CAA","v":94.6},
{"p":"F","b":1,"k":1,"g":"Presymp-CON","v":284.5},{"p":"F","b":1,"k":2,"g":"Presymp-CON","v":304.8},{"p":"F","b":1,"k":3,"g":"Presymp D-CAA","v":304.8},{"p":"F","b":1,"k":4,"g":"Presymp D-CAA","v":284.5},
{"p":"F","b":2,"k":1,"g":"Symp-CON","v":286.1},{"p":"F","b":2,"k":2,"g":"Symp-CON","v":301.6},{"p":"F","b":2,"k":3,"g":"Symp D-CAA","v":301.6},{"p":"F","b":2,"k":4,"g":"Symp D-CAA","v":286.1}
],
"sig": [
{"p":"A","g":"Presymp-CON","t":"*","v":80.7},{"p":"A","g":"Symp-CON","t":"ns","v":81.7},
{"p":"B","g":"Presymp-CON","t":"ns","v":106000},{"p":"B","g":"Symp-CON","t":"ns","v":106000},
{"p":"C","g":"Presymp-CON","t":"ns","v":8068},{"p":"C","g":"Symp-CON","t":"*","v":8085},
{"p":"D","g":"Presymp-CON","t":"ns","v":153.7},{"p":"D","g":"Symp-CON","t":"ns","v":152.0},
{"p":"E","g":"Presymp-CON","t":"ns","v":101.3},{"p":"E","g":"Symp-CON","t":"ns","v":101.3},
{"p":"F","g":"Presymp-CON","t":"ns","v":304.8},{"p":"F","g":"Symp-CON","t":"ns","v":301.6}
]
},
"vconcat": [
{"hconcat": [
{"title": {"text": "A", "anchor": "start", "frame": "bounds", "fontSize": 52, "offset": -36, "dx": -8}, "vconcat": [{
 "title": "MMP-2", "width": 462, "height": 312,
 "encoding": {
  "x": {"field": "g", "type": "nominal", "title": null, "sort": ["Presymp-CON", "Presymp D-CAA", "Symp-CON", "Symp D-CAA"], "scale": {"type": "band", "paddingInner": 0, "paddingOuter": 0.146}},
  "y": {"field": "v", "type": "quantitative", "title": "MMP-2 (ng/mL)", "scale": {"domain": [0, 80], "nice": false, "zero": false}, "axis": {"values": [0, 20, 40, 60, 80]}}
 },
 "layer": [
  {"data": {"name": "pts"}, "transform": [{"filter": "datum.p == 'A' && datum.o == 0"}], "mark": {"type": "point", "filled": true, "stroke": "black", "strokeWidth": 1.8, "size": 175, "opacity": 1}, "encoding": {"xOffset": {"field": "j", "type": "quantitative", "scale": {"domain": [-0.5, 0.5]}}, "shape": {"field": "g", "type": "nominal", "scale": {"domain": ["Presymp-CON", "Presymp D-CAA", "Symp-CON", "Symp D-CAA"], "range": ["M-1,0L0,-1L1,0L0,1Z", "M-1,0L0,-1L1,0L0,1Z", "M-1,0L-0.5,-0.866L0.5,-0.866L1,0L0.5,0.866L-0.5,0.866Z", "M-1,0L-0.5,-0.866L0.5,-0.866L1,0L0.5,0.866L-0.5,0.866Z"]}, "legend": null}, "fill": {"field": "g", "type": "nominal", "scale": {"domain": ["Presymp-CON", "Presymp D-CAA", "Symp-CON", "Symp D-CAA"], "range": ["white", "black", "white", "black"]}, "legend": null}}},
  {"data": {"name": "pts"}, "transform": [{"filter": "datum.p == 'A' && datum.o == 1"}], "mark": {"type": "point", "filled": true, "fill": "white", "stroke": "black", "strokeWidth": 1.5, "size": 160, "opacity": 1}, "encoding": {"xOffset": {"field": "j", "type": "quantitative", "scale": {"domain": [-0.5, 0.5]}}, "shape": {"field": "g", "type": "nominal", "scale": {"domain": ["Presymp-CON", "Presymp D-CAA", "Symp-CON", "Symp D-CAA"], "range": ["M-1,0L0,-1L1,0L0,1ZM-1,0L1,0M0,-1L0,1", "M-1,0L0,-1L1,0L0,1ZM-1,0L1,0M0,-1L0,1", "M-1,0L-0.5,-0.866L0.5,-0.866L1,0L0.5,0.866L-0.5,0.866ZM-1,0L1,0M-0.5,-0.866L0.5,0.866M0.5,-0.866L-0.5,0.866", "M-1,0L-0.5,-0.866L0.5,-0.866L1,0L0.5,0.866L-0.5,0.866ZM-1,0L1,0M-0.5,-0.866L0.5,0.866M0.5,-0.866L-0.5,0.866"]}, "legend": null}}},
  {"data": {"name": "stats"}, "transform": [{"filter": "datum.p == 'A'"}], "mark": {"type": "tick", "color": "#8c8c8c", "size": 72, "thickness": 3.5}},
  {"data": {"name": "stats"}, "transform": [{"filter": "datum.p == 'A'"}], "mark": {"type": "tick", "color": "#8c8c8c", "size": 36, "thickness": 2}, "encoding": {"y": {"field": "lo", "type": "quantitative"}}},
  {"data": {"name": "stats"}, "transform": [{"filter": "datum.p == 'A'"}], "mark": {"type": "tick", "color": "#8c8c8c", "size": 36, "thickness": 2}, "encoding": {"y": {"field": "hi", "type": "quantitative"}}},
  {"data": {"name": "stats"}, "transform": [{"filter": "datum.p == 'A'"}], "mark": {"type": "rule", "color": "#8c8c8c", "strokeWidth": 2}, "encoding": {"y": {"field": "lo", "type": "quantitative"}, "y2": {"field": "hi"}}},
  {"data": {"name": "brk"}, "transform": [{"filter": "datum.p == 'A'"}], "mark": {"type": "line", "color": "black", "strokeWidth": 3, "strokeJoin": "miter"}, "encoding": {"detail": {"field": "b"}, "order": {"field": "k", "type": "quantitative"}}},
  {"data": {"name": "sig"}, "transform": [{"filter": "datum.p == 'A' && datum.t == 'ns'"}], "mark": {"type": "text", "fontSize": 26, "baseline": "alphabetic", "dy": -10}, "encoding": {"x": {"field": "g", "type": "nominal", "sort": ["Presymp-CON", "Presymp D-CAA", "Symp-CON", "Symp D-CAA"], "bandPosition": 1}, "text": {"field": "t"}}},
  {"data": {"name": "sig"}, "transform": [{"filter": "datum.p == 'A' && datum.t == '*'"}], "mark": {"type": "text", "fontSize": 44, "fontWeight": "bold", "baseline": "alphabetic", "dy": 8}, "encoding": {"x": {"field": "g", "type": "nominal", "sort": ["Presymp-CON", "Presymp D-CAA", "Symp-CON", "Symp D-CAA"], "bandPosition": 1}, "text": {"field": "t"}}}
 ],
 "resolve": {"scale": {"shape": "independent"}}
}]},
{"hconcat": [
{"title": {"text": "B", "anchor": "start", "frame": "bounds", "fontSize": 52, "offset": -36, "dx": -8}, "vconcat": [{
 "title": "MMP-9", "width": 462, "height": 312,
 "encoding": {
  "x": {"field": "g", "type": "nominal", "title": null, "sort": ["Presymp-CON", "Presymp D-CAA", "Symp-CON", "Symp D-CAA"], "scale": {"type": "band", "paddingInner": 0, "paddingOuter": 0.146}},
  "y": {"field": "v", "type": "quantitative", "title": "MMP-9\u00a0 (pg/mL)", "scale": {"type": "log", "domain": [100, 100000], "nice": false}, "axis": {"values": [100,200,300,400,500,600,700,800,900,1000,2000,3000,4000,5000,6000,7000,8000,9000,10000,20000,30000,40000,50000,60000,70000,80000,90000,100000], "format": "d", "labelExpr": "datum.value == 100 || datum.value == 1000 || datum.value == 10000 || datum.value == 100000 ? datum.label : ''", "tickSize": {"condition": {"test": "datum.value == 100 || datum.value == 1000 || datum.value == 10000 || datum.value == 100000", "value": 10}, "value": 7}}}
 },
 "layer": [
  {"data": {"name": "pts"}, "transform": [{"filter": "datum.p == 'B' && datum.o == 0"}], "mark": {"type": "point", "filled": true, "stroke": "black", "strokeWidth": 1.8, "size": 175, "opacity": 1}, "encoding": {"xOffset": {"field": "j", "type": "quantitative", "scale": {"domain": [-0.5, 0.5]}}, "shape": {"field": "g", "type": "nominal", "scale": {"domain": ["Presymp-CON", "Presymp D-CAA", "Symp-CON", "Symp D-CAA"], "range": ["M-1,0L0,-1L1,0L0,1Z", "M-1,0L0,-1L1,0L0,1Z", "M-1,0L-0.5,-0.866L0.5,-0.866L1,0L0.5,0.866L-0.5,0.866Z", "M-1,0L-0.5,-0.866L0.5,-0.866L1,0L0.5,0.866L-0.5,0.866Z"]}, "legend": null}, "fill": {"field": "g", "type": "nominal", "scale": {"domain": ["Presymp-CON", "Presymp D-CAA", "Symp-CON", "Symp D-CAA"], "range": ["white", "black", "white", "black"]}, "legend": null}}},
  {"data": {"name": "pts"}, "transform": [{"filter": "datum.p == 'B' && datum.o == 1"}], "mark": {"type": "point", "filled": true, "fill": "white", "stroke": "black", "strokeWidth": 1.5, "size": 160, "opacity": 1}, "encoding": {"xOffset": {"field": "j", "type": "quantitative", "scale": {"domain": [-0.5, 0.5]}}, "shape": {"field": "g", "type": "nominal", "scale": {"domain": ["Presymp-CON", "Presymp D-CAA", "Symp-CON", "Symp D-CAA"], "range": ["M-1,0L0,-1L1,0L0,1ZM-1,0L1,0M0,-1L0,1", "M-1,0L0,-1L1,0L0,1ZM-1,0L1,0M0,-1L0,1", "M-1,0L-0.5,-0.866L0.5,-0.866L1,0L0.5,0.866L-0.5,0.866ZM-1,0L1,0M-0.5,-0.866L0.5,0.866M0.5,-0.866L-0.5,0.866", "M-1,0L-0.5,-0.866L0.5,-0.866L1,0L0.5,0.866L-0.5,0.866ZM-1,0L1,0M-0.5,-0.866L0.5,0.866M0.5,-0.866L-0.5,0.866"]}, "legend": null}}},
  {"data": {"name": "stats"}, "transform": [{"filter": "datum.p == 'B'"}], "mark": {"type": "tick", "color": "#8c8c8c", "size": 72, "thickness": 3.5}},
  {"data": {"name": "stats"}, "transform": [{"filter": "datum.p == 'B'"}], "mark": {"type": "tick", "color": "#8c8c8c", "size": 36, "thickness": 2}, "encoding": {"y": {"field": "lo", "type": "quantitative", "scale": {"type": "log"}}}},
  {"data": {"name": "stats"}, "transform": [{"filter": "datum.p == 'B'"}], "mark": {"type": "tick", "color": "#8c8c8c", "size": 36, "thickness": 2}, "encoding": {"y": {"field": "hi", "type": "quantitative", "scale": {"type": "log"}}}},
  {"data": {"name": "stats"}, "transform": [{"filter": "datum.p == 'B'"}], "mark": {"type": "rule", "color": "#8c8c8c", "strokeWidth": 2}, "encoding": {"y": {"field": "lo", "type": "quantitative", "scale": {"type": "log"}}, "y2": {"field": "hi"}}},
  {"data": {"name": "brk"}, "transform": [{"filter": "datum.p == 'B'"}], "mark": {"type": "line", "color": "black", "strokeWidth": 3, "strokeJoin": "miter"}, "encoding": {"detail": {"field": "b"}, "order": {"field": "k", "type": "quantitative"}}},
  {"data": {"name": "sig"}, "transform": [{"filter": "datum.p == 'B' && datum.t == 'ns'"}], "mark": {"type": "text", "fontSize": 26, "baseline": "alphabetic", "dy": -10}, "encoding": {"x": {"field": "g", "type": "nominal", "sort": ["Presymp-CON", "Presymp D-CAA", "Symp-CON", "Symp D-CAA"], "bandPosition": 1}, "text": {"field": "t"}}}
 ],
 "resolve": {"scale": {"shape": "independent"}}
}]},
{"title": {"text": "C", "anchor": "start", "frame": "bounds", "fontSize": 52, "offset": -36, "dx": -8}, "vconcat": [{
 "title": "MMP-14", "width": 462, "height": 312,
 "encoding": {
  "x": {"field": "g", "type": "nominal", "title": null, "sort": ["Presymp-CON", "Presymp D-CAA", "Symp-CON", "Symp D-CAA"], "scale": {"type": "band", "paddingInner": 0, "paddingOuter": 0.146}},
  "y": {"field": "v", "type": "quantitative", "title": "MMP-14 (pg/mL)", "scale": {"domain": [0, 8000], "nice": false, "zero": false}, "axis": {"values": [0, 2000, 4000, 6000, 8000], "format": "d"}}
 },
 "layer": [
  {"data": {"name": "pts"}, "transform": [{"filter": "datum.p == 'C' && datum.o == 0"}], "mark": {"type": "point", "filled": true, "stroke": "black", "strokeWidth": 1.8, "size": 175, "opacity": 1}, "encoding": {"xOffset": {"field": "j", "type": "quantitative", "scale": {"domain": [-0.5, 0.5]}}, "shape": {"field": "g", "type": "nominal", "scale": {"domain": ["Presymp-CON", "Presymp D-CAA", "Symp-CON", "Symp D-CAA"], "range": ["M-1,0L0,-1L1,0L0,1Z", "M-1,0L0,-1L1,0L0,1Z", "M-1,0L-0.5,-0.866L0.5,-0.866L1,0L0.5,0.866L-0.5,0.866Z", "M-1,0L-0.5,-0.866L0.5,-0.866L1,0L0.5,0.866L-0.5,0.866Z"]}, "legend": null}, "fill": {"field": "g", "type": "nominal", "scale": {"domain": ["Presymp-CON", "Presymp D-CAA", "Symp-CON", "Symp D-CAA"], "range": ["white", "black", "white", "black"]}, "legend": null}}},
  {"data": {"name": "pts"}, "transform": [{"filter": "datum.p == 'C' && datum.o == 1"}], "mark": {"type": "point", "filled": true, "fill": "white", "stroke": "black", "strokeWidth": 1.5, "size": 160, "opacity": 1}, "encoding": {"xOffset": {"field": "j", "type": "quantitative", "scale": {"domain": [-0.5, 0.5]}}, "shape": {"field": "g", "type": "nominal", "scale": {"domain": ["Presymp-CON", "Presymp D-CAA", "Symp-CON", "Symp D-CAA"], "range": ["M-1,0L0,-1L1,0L0,1ZM-1,0L1,0M0,-1L0,1", "M-1,0L0,-1L1,0L0,1ZM-1,0L1,0M0,-1L0,1", "M-1,0L-0.5,-0.866L0.5,-0.866L1,0L0.5,0.866L-0.5,0.866ZM-1,0L1,0M-0.5,-0.866L0.5,0.866M0.5,-0.866L-0.5,0.866", "M-1,0L-0.5,-0.866L0.5,-0.866L1,0L0.5,0.866L-0.5,0.866ZM-1,0L1,0M-0.5,-0.866L0.5,0.866M0.5,-0.866L-0.5,0.866"]}, "legend": null}}},
  {"data": {"name": "stats"}, "transform": [{"filter": "datum.p == 'C'"}], "mark": {"type": "tick", "color": "#8c8c8c", "size": 72, "thickness": 3.5}},
  {"data": {"name": "stats"}, "transform": [{"filter": "datum.p == 'C'"}], "mark": {"type": "tick", "color": "#8c8c8c", "size": 36, "thickness": 2}, "encoding": {"y": {"field": "lo", "type": "quantitative"}}},
  {"data": {"name": "stats"}, "transform": [{"filter": "datum.p == 'C'"}], "mark": {"type": "tick", "color": "#8c8c8c", "size": 36, "thickness": 2}, "encoding": {"y": {"field": "hi", "type": "quantitative"}}},
  {"data": {"name": "stats"}, "transform": [{"filter": "datum.p == 'C'"}], "mark": {"type": "rule", "color": "#8c8c8c", "strokeWidth": 2}, "encoding": {"y": {"field": "lo", "type": "quantitative"}, "y2": {"field": "hi"}}},
  {"data": {"name": "brk"}, "transform": [{"filter": "datum.p == 'C'"}], "mark": {"type": "line", "color": "black", "strokeWidth": 3, "strokeJoin": "miter"}, "encoding": {"detail": {"field": "b"}, "order": {"field": "k", "type": "quantitative"}}},
  {"data": {"name": "sig"}, "transform": [{"filter": "datum.p == 'C' && datum.t == 'ns'"}], "mark": {"type": "text", "fontSize": 26, "baseline": "alphabetic", "dy": -10}, "encoding": {"x": {"field": "g", "type": "nominal", "sort": ["Presymp-CON", "Presymp D-CAA", "Symp-CON", "Symp D-CAA"], "bandPosition": 1}, "text": {"field": "t"}}},
  {"data": {"name": "sig"}, "transform": [{"filter": "datum.p == 'C' && datum.t == '*'"}], "mark": {"type": "text", "fontSize": 44, "fontWeight": "bold", "baseline": "alphabetic", "dy": 8}, "encoding": {"x": {"field": "g", "type": "nominal", "sort": ["Presymp-CON", "Presymp D-CAA", "Symp-CON", "Symp D-CAA"], "bandPosition": 1}, "text": {"field": "t"}}}
 ],
 "resolve": {"scale": {"shape": "independent"}}
}]}
], "spacing": 94}
], "spacing": 106},
{"hconcat": [
{"title": {"text": "D", "anchor": "start", "frame": "bounds", "fontSize": 52, "offset": -36, "dx": -8}, "vconcat": [{
 "title": "TIMP-1", "width": 462, "height": 312,
 "encoding": {
  "x": {"field": "g", "type": "nominal", "title": null, "sort": ["Presymp-CON", "Presymp D-CAA", "Symp-CON", "Symp D-CAA"], "scale": {"type": "band", "paddingInner": 0, "paddingOuter": 0.146}},
  "y": {"field": "v", "type": "quantitative", "title": "TIMP-1\u00a0 (ng/mL)", "scale": {"domain": [0, 150], "nice": false, "zero": false}, "axis": {"values": [0, 50, 100, 150]}}
 },
 "layer": [
  {"data": {"name": "pts"}, "transform": [{"filter": "datum.p == 'D' && datum.o == 0"}], "mark": {"type": "point", "filled": true, "stroke": "black", "strokeWidth": 1.8, "size": 175, "opacity": 1}, "encoding": {"xOffset": {"field": "j", "type": "quantitative", "scale": {"domain": [-0.5, 0.5]}}, "shape": {"field": "g", "type": "nominal", "scale": {"domain": ["Presymp-CON", "Presymp D-CAA", "Symp-CON", "Symp D-CAA"], "range": ["M-1,0L0,-1L1,0L0,1Z", "M-1,0L0,-1L1,0L0,1Z", "M-1,0L-0.5,-0.866L0.5,-0.866L1,0L0.5,0.866L-0.5,0.866Z", "M-1,0L-0.5,-0.866L0.5,-0.866L1,0L0.5,0.866L-0.5,0.866Z"]}, "legend": null}, "fill": {"field": "g", "type": "nominal", "scale": {"domain": ["Presymp-CON", "Presymp D-CAA", "Symp-CON", "Symp D-CAA"], "range": ["white", "black", "white", "black"]}, "legend": null}}},
  {"data": {"name": "pts"}, "transform": [{"filter": "datum.p == 'D' && datum.o == 1"}], "mark": {"type": "point", "filled": true, "fill": "white", "stroke": "black", "strokeWidth": 1.5, "size": 160, "opacity": 1}, "encoding": {"xOffset": {"field": "j", "type": "quantitative", "scale": {"domain": [-0.5, 0.5]}}, "shape": {"field": "g", "type": "nominal", "scale": {"domain": ["Presymp-CON", "Presymp D-CAA", "Symp-CON", "Symp D-CAA"], "range": ["M-1,0L0,-1L1,0L0,1ZM-1,0L1,0M0,-1L0,1", "M-1,0L0,-1L1,0L0,1ZM-1,0L1,0M0,-1L0,1", "M-1,0L-0.5,-0.866L0.5,-0.866L1,0L0.5,0.866L-0.5,0.866ZM-1,0L1,0M-0.5,-0.866L0.5,0.866M0.5,-0.866L-0.5,0.866", "M-1,0L-0.5,-0.866L0.5,-0.866L1,0L0.5,0.866L-0.5,0.866ZM-1,0L1,0M-0.5,-0.866L0.5,0.866M0.5,-0.866L-0.5,0.866"]}, "legend": null}}},
  {"data": {"name": "stats"}, "transform": [{"filter": "datum.p == 'D'"}], "mark": {"type": "tick", "color": "#8c8c8c", "size": 72, "thickness": 3.5}},
  {"data": {"name": "stats"}, "transform": [{"filter": "datum.p == 'D'"}], "mark": {"type": "tick", "color": "#8c8c8c", "size": 36, "thickness": 2}, "encoding": {"y": {"field": "lo", "type": "quantitative"}}},
  {"data": {"name": "stats"}, "transform": [{"filter": "datum.p == 'D'"}], "mark": {"type": "tick", "color": "#8c8c8c", "size": 36, "thickness": 2}, "encoding": {"y": {"field": "hi", "type": "quantitative"}}},
  {"data": {"name": "stats"}, "transform": [{"filter": "datum.p == 'D'"}], "mark": {"type": "rule", "color": "#8c8c8c", "strokeWidth": 2}, "encoding": {"y": {"field": "lo", "type": "quantitative"}, "y2": {"field": "hi"}}},
  {"data": {"name": "brk"}, "transform": [{"filter": "datum.p == 'D'"}], "mark": {"type": "line", "color": "black", "strokeWidth": 3, "strokeJoin": "miter"}, "encoding": {"detail": {"field": "b"}, "order": {"field": "k", "type": "quantitative"}}},
  {"data": {"name": "sig"}, "transform": [{"filter": "datum.p == 'D' && datum.t == 'ns'"}], "mark": {"type": "text", "fontSize": 26, "baseline": "alphabetic", "dy": -10}, "encoding": {"x": {"field": "g", "type": "nominal", "sort": ["Presymp-CON", "Presymp D-CAA", "Symp-CON", "Symp D-CAA"], "bandPosition": 1}, "text": {"field": "t"}}}
 ],
 "resolve": {"scale": {"shape": "independent"}}
}]},
{"hconcat": [
{"title": {"text": "E", "anchor": "start", "frame": "bounds", "fontSize": 52, "offset": -36, "dx": -8}, "vconcat": [{
 "title": "TIMP-2", "width": 462, "height": 312,
 "encoding": {
  "x": {"field": "g", "type": "nominal", "title": null, "sort": ["Presymp-CON", "Presymp D-CAA", "Symp-CON", "Symp D-CAA"], "scale": {"type": "band", "paddingInner": 0, "paddingOuter": 0.146}},
  "y": {"field": "v", "type": "quantitative", "title": "TIMP-2 (ng/mL)", "scale": {"domain": [0, 100], "nice": false, "zero": false}, "axis": {"values": [0, 20, 40, 60, 80, 100]}}
 },
 "layer": [
  {"data": {"name": "pts"}, "transform": [{"filter": "datum.p == 'E' && datum.o == 0"}], "mark": {"type": "point", "filled": true, "stroke": "black", "strokeWidth": 1.8, "size": 175, "opacity": 1}, "encoding": {"xOffset": {"field": "j", "type": "quantitative", "scale": {"domain": [-0.5, 0.5]}}, "shape": {"field": "g", "type": "nominal", "scale": {"domain": ["Presymp-CON", "Presymp D-CAA", "Symp-CON", "Symp D-CAA"], "range": ["M-1,0L0,-1L1,0L0,1Z", "M-1,0L0,-1L1,0L0,1Z", "M-1,0L-0.5,-0.866L0.5,-0.866L1,0L0.5,0.866L-0.5,0.866Z", "M-1,0L-0.5,-0.866L0.5,-0.866L1,0L0.5,0.866L-0.5,0.866Z"]}, "legend": null}, "fill": {"field": "g", "type": "nominal", "scale": {"domain": ["Presymp-CON", "Presymp D-CAA", "Symp-CON", "Symp D-CAA"], "range": ["white", "black", "white", "black"]}, "legend": null}}},
  {"data": {"name": "pts"}, "transform": [{"filter": "datum.p == 'E' && datum.o == 1"}], "mark": {"type": "point", "filled": true, "fill": "white", "stroke": "black", "strokeWidth": 1.5, "size": 160, "opacity": 1}, "encoding": {"xOffset": {"field": "j", "type": "quantitative", "scale": {"domain": [-0.5, 0.5]}}, "shape": {"field": "g", "type": "nominal", "scale": {"domain": ["Presymp-CON", "Presymp D-CAA", "Symp-CON", "Symp D-CAA"], "range": ["M-1,0L0,-1L1,0L0,1ZM-1,0L1,0M0,-1L0,1", "M-1,0L0,-1L1,0L0,1ZM-1,0L1,0M0,-1L0,1", "M-1,0L-0.5,-0.866L0.5,-0.866L1,0L0.5,0.866L-0.5,0.866ZM-1,0L1,0M-0.5,-0.866L0.5,0.866M0.5,-0.866L-0.5,0.866", "M-1,0L-0.5,-0.866L0.5,-0.866L1,0L0.5,0.866L-0.5,0.866ZM-1,0L1,0M-0.5,-0.866L0.5,0.866M0.5,-0.866L-0.5,0.866"]}, "legend": null}}},
  {"data": {"name": "stats"}, "transform": [{"filter": "datum.p == 'E'"}], "mark": {"type": "tick", "color": "#8c8c8c", "size": 72, "thickness": 3.5}},
  {"data": {"name": "stats"}, "transform": [{"filter": "datum.p == 'E'"}], "mark": {"type": "tick", "color": "#8c8c8c", "size": 36, "thickness": 2}, "encoding": {"y": {"field": "lo", "type": "quantitative"}}},
  {"data": {"name": "stats"}, "transform": [{"filter": "datum.p == 'E'"}], "mark": {"type": "tick", "color": "#8c8c8c", "size": 36, "thickness": 2}, "encoding": {"y": {"field": "hi", "type": "quantitative"}}},
  {"data": {"name": "stats"}, "transform": [{"filter": "datum.p == 'E'"}], "mark": {"type": "rule", "color": "#8c8c8c", "strokeWidth": 2}, "encoding": {"y": {"field": "lo", "type": "quantitative"}, "y2": {"field": "hi"}}},
  {"data": {"name": "brk"}, "transform": [{"filter": "datum.p == 'E'"}], "mark": {"type": "line", "color": "black", "strokeWidth": 3, "strokeJoin": "miter"}, "encoding": {"detail": {"field": "b"}, "order": {"field": "k", "type": "quantitative"}}},
  {"data": {"name": "sig"}, "transform": [{"filter": "datum.p == 'E' && datum.t == 'ns'"}], "mark": {"type": "text", "fontSize": 26, "baseline": "alphabetic", "dy": -10}, "encoding": {"x": {"field": "g", "type": "nominal", "sort": ["Presymp-CON", "Presymp D-CAA", "Symp-CON", "Symp D-CAA"], "bandPosition": 1}, "text": {"field": "t"}}}
 ],
 "resolve": {"scale": {"shape": "independent"}}
}]},
{"title": {"text": "F", "anchor": "start", "frame": "bounds", "fontSize": 52, "offset": -36, "dx": -8}, "vconcat": [{
 "title": "TIMP-3", "width": 462, "height": 312,
 "encoding": {
  "x": {"field": "g", "type": "nominal", "title": null, "sort": ["Presymp-CON", "Presymp D-CAA", "Symp-CON", "Symp D-CAA"], "scale": {"type": "band", "paddingInner": 0, "paddingOuter": 0.146}},
  "y": {"field": "v", "type": "quantitative", "title": "TIMP-3\u00a0 (pg/mL)", "scale": {"domain": [0, 300], "nice": false, "zero": false}, "axis": {"values": [0, 100, 200, 300]}}
 },
 "layer": [
  {"data": {"name": "pts"}, "transform": [{"filter": "datum.p == 'F' && datum.o == 0"}], "mark": {"type": "point", "filled": true, "stroke": "black", "strokeWidth": 1.8, "size": 175, "opacity": 1}, "encoding": {"xOffset": {"field": "j", "type": "quantitative", "scale": {"domain": [-0.5, 0.5]}}, "shape": {"field": "g", "type": "nominal", "scale": {"domain": ["Presymp-CON", "Presymp D-CAA", "Symp-CON", "Symp D-CAA"], "range": ["M-1,0L0,-1L1,0L0,1Z", "M-1,0L0,-1L1,0L0,1Z", "M-1,0L-0.5,-0.866L0.5,-0.866L1,0L0.5,0.866L-0.5,0.866Z", "M-1,0L-0.5,-0.866L0.5,-0.866L1,0L0.5,0.866L-0.5,0.866Z"]}, "legend": null}, "fill": {"field": "g", "type": "nominal", "scale": {"domain": ["Presymp-CON", "Presymp D-CAA", "Symp-CON", "Symp D-CAA"], "range": ["white", "black", "white", "black"]}, "legend": null}}},
  {"data": {"name": "pts"}, "transform": [{"filter": "datum.p == 'F' && datum.o == 1"}], "mark": {"type": "point", "filled": true, "fill": "white", "stroke": "black", "strokeWidth": 1.5, "size": 160, "opacity": 1}, "encoding": {"xOffset": {"field": "j", "type": "quantitative", "scale": {"domain": [-0.5, 0.5]}}, "shape": {"field": "g", "type": "nominal", "scale": {"domain": ["Presymp-CON", "Presymp D-CAA", "Symp-CON", "Symp D-CAA"], "range": ["M-1,0L0,-1L1,0L0,1ZM-1,0L1,0M0,-1L0,1", "M-1,0L0,-1L1,0L0,1ZM-1,0L1,0M0,-1L0,1", "M-1,0L-0.5,-0.866L0.5,-0.866L1,0L0.5,0.866L-0.5,0.866ZM-1,0L1,0M-0.5,-0.866L0.5,0.866M0.5,-0.866L-0.5,0.866", "M-1,0L-0.5,-0.866L0.5,-0.866L1,0L0.5,0.866L-0.5,0.866ZM-1,0L1,0M-0.5,-0.866L0.5,0.866M0.5,-0.866L-0.5,0.866"]}, "legend": null}}},
  {"data": {"name": "stats"}, "transform": [{"filter": "datum.p == 'F'"}], "mark": {"type": "tick", "color": "#8c8c8c", "size": 72, "thickness": 3.5}},
  {"data": {"name": "stats"}, "transform": [{"filter": "datum.p == 'F'"}], "mark": {"type": "tick", "color": "#8c8c8c", "size": 36, "thickness": 2}, "encoding": {"y": {"field": "lo", "type": "quantitative"}}},
  {"data": {"name": "stats"}, "transform": [{"filter": "datum.p == 'F'"}], "mark": {"type": "tick", "color": "#8c8c8c", "size": 36, "thickness": 2}, "encoding": {"y": {"field": "hi", "type": "quantitative"}}},
  {"data": {"name": "stats"}, "transform": [{"filter": "datum.p == 'F'"}], "mark": {"type": "rule", "color": "#8c8c8c", "strokeWidth": 2}, "encoding": {"y": {"field": "lo", "type": "quantitative"}, "y2": {"field": "hi"}}},
  {"data": {"name": "brk"}, "transform": [{"filter": "datum.p == 'F'"}], "mark": {"type": "line", "color": "black", "strokeWidth": 3, "strokeJoin": "miter"}, "encoding": {"detail": {"field": "b"}, "order": {"field": "k", "type": "quantitative"}}},
  {"data": {"name": "sig"}, "transform": [{"filter": "datum.p == 'F' && datum.t == 'ns'"}], "mark": {"type": "text", "fontSize": 26, "baseline": "alphabetic", "dy": -10}, "encoding": {"x": {"field": "g", "type": "nominal", "sort": ["Presymp-CON", "Presymp D-CAA", "Symp-CON", "Symp D-CAA"], "bandPosition": 1}, "text": {"field": "t"}}}
 ],
 "resolve": {"scale": {"shape": "independent"}}
}]}
], "spacing": 94}
], "spacing": 106}
],
"spacing": 81,
"config": {
 "font": "Liberation Sans",
 "view": {"stroke": null},
 "title": {"font": "Liberation Sans", "fontSize": 32, "fontWeight": "bold", "color": "black", "offset": 22},
 "text": {"font": "Liberation Sans", "color": "black"},
 "axis": {"grid": false, "domainColor": "black", "domainWidth": 3, "tickColor": "black", "tickWidth": 3, "labelColor": "black", "labelFont": "Liberation Sans", "labelFontWeight": "bold", "titleFont": "Liberation Sans", "titleFontWeight": "bold", "titleColor": "black"},
 "axisY": {"tickSize": 10, "labelFontSize": 22, "labelPadding": 4, "titleFontSize": 26, "titleX": -80, "titleY": 156, "titleAngle": -90, "titleAlign": "center", "titleBaseline": "bottom"},
 "axisX": {"tickSize": 12, "labelFontSize": 22, "labelAngle": -45, "labelAlign": "right", "labelBaseline": "middle", "labelPadding": 18}
}
}
